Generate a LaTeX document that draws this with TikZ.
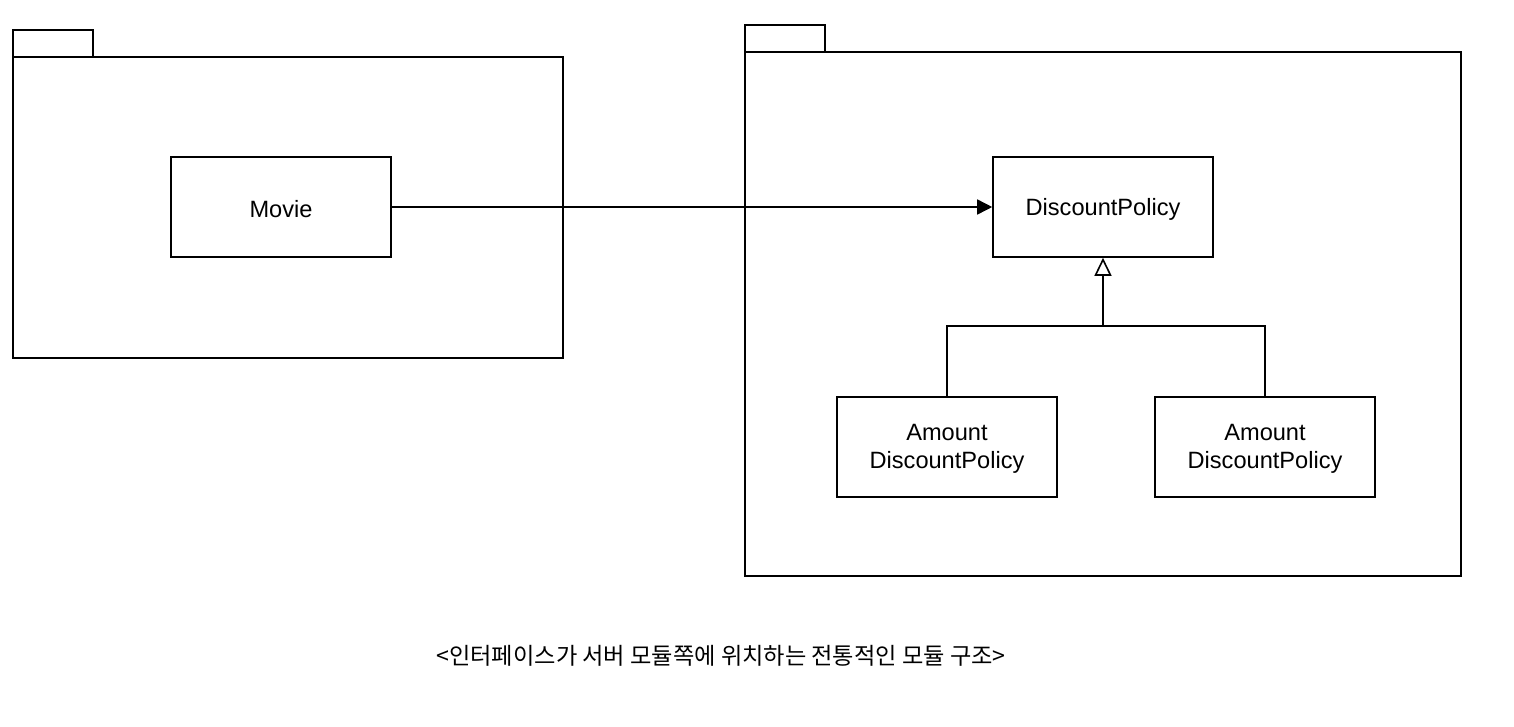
\documentclass[tikz,border=0pt]{standalone}
\usepackage{fontspec}
\setmainfont{Liberation Sans}
\newfontfamily\krfont{Noto Sans CJK KR}
\usetikzlibrary{arrows.meta}
\tikzset{
  ln/.style={line width=1.6pt, line cap=rect},
  cls/.style={ln, draw, minimum width=220pt, minimum height=100pt, inner sep=0pt, align=center},
  lbl/.style={align=center, inner sep=0pt, font=\fontsize{23.6}{28}\selectfont},
  pkg/.style={ln, draw},
}
\begin{document}
\begin{tikzpicture}[x=1pt,y=-1pt]
\useasboundingbox[fill=white] (0,0) rectangle (1514,726);
% left package
\draw[pkg] (13,30) rectangle (93,57);
\draw[pkg] (13,57) rectangle (563,358);
% right package
\draw[pkg] (745,25) rectangle (825,52);
\draw[pkg] (745,52) rectangle (1461,576);
% classes
\node[cls] (movie) at (281,207) {};
\node[cls] (dp) at (1103,207) {};
\node[cls] (a1) at (947,447) {};
\node[cls] (a2) at (1265,447) {};
\node[lbl] (movieL) at (281,209) {Movie};
\node[lbl] (dpL) at (1103,209) {DiscountPolicy};
\node[lbl] (a1L) at (947,449) {Amount\\DiscountPolicy};
\node[lbl] (a2L) at (1265,449) {Amount\\DiscountPolicy};
\coordinate (j) at (1103,326);
\draw[ln, -{Triangle[length=15pt,width=15pt]}] (movie) -- (dp);
\draw[ln] (a1.north) |- (j) -| (a2.north);
\draw[ln, line cap=butt, -{Triangle[open,length=18pt,width=17pt,line width=1.6pt]}] (j) -- (dp.south);
\node[font=\krfont\fontsize{23.2}{28}\selectfont] (cap) at (721,656) {<인터페이스가 서버 모듈쪽에 위치하는 전통적인 모듈 구조>};
\end{tikzpicture}
\end{document}
